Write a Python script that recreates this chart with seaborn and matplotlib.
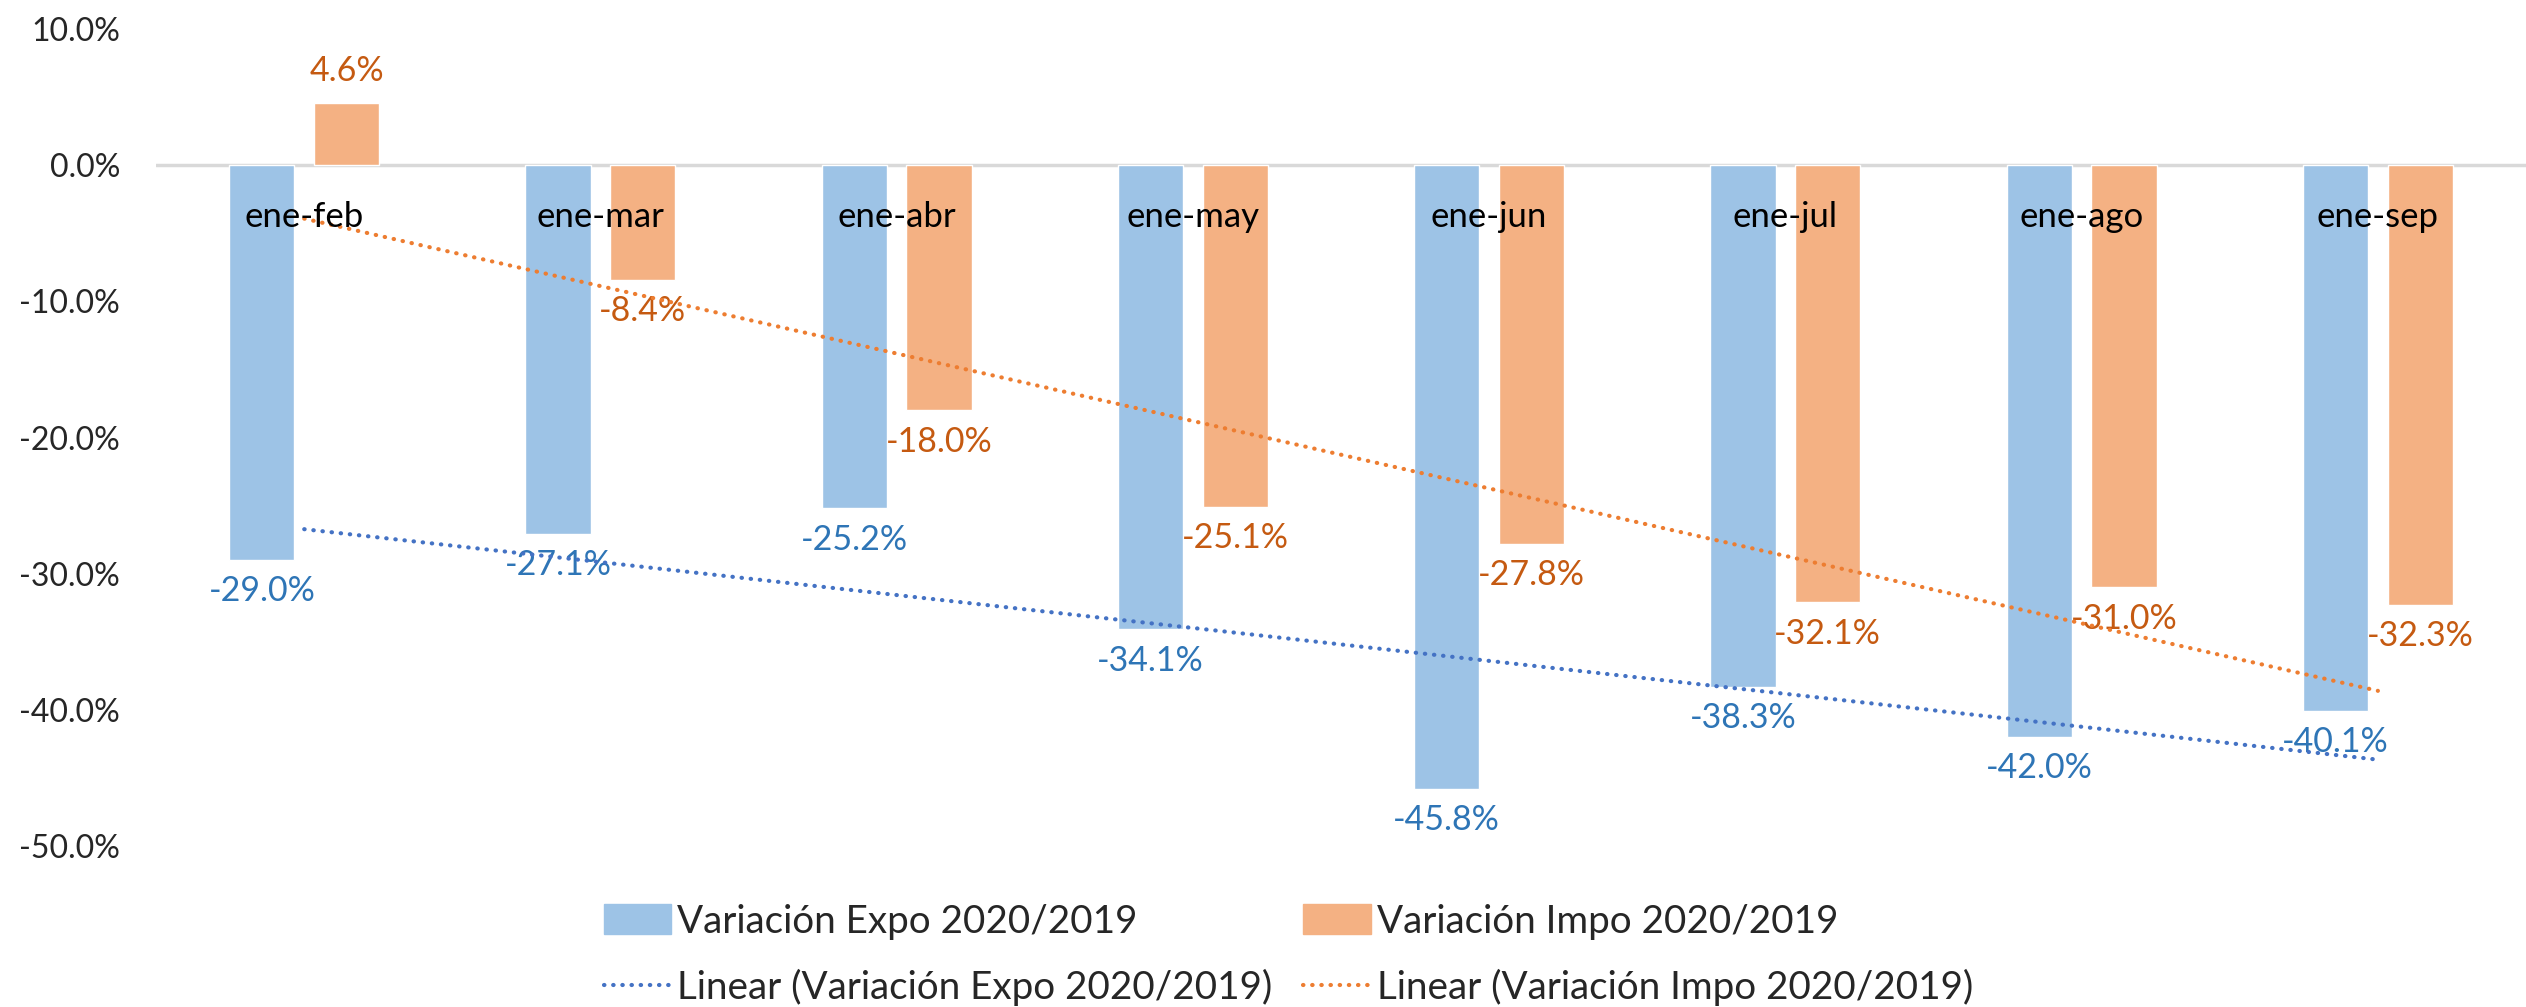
import numpy as np
import pandas as pd
import matplotlib
matplotlib.use("Agg")
import matplotlib.pyplot as plt
import seaborn as sns
from matplotlib.patches import Patch
from matplotlib.lines import Line2D

# datos
periodos = ["ene-feb", "ene-mar", "ene-abr", "ene-may", "ene-jun", "ene-jul", "ene-ago", "ene-sep"]
expo = [-29.0, -27.1, -25.2, -34.1, -45.8, -38.3, -42.0, -40.1]
impo = [4.6, -8.4, -18.0, -25.1, -27.8, -32.1, -31.0, -32.3]
serie_expo = "Variación Expo 2020/2019"
serie_impo = "Variación Impo 2020/2019"
yticks = [10, 0, -10, -20, -30, -40, -50]

# colores
c_expo = "#9DC3E6"
c_impo = "#F4B183"
c_lab_expo = "#2E75B6"
c_lab_impo = "#C55A11"
c_tr_expo = "#4472C4"
c_tr_impo = "#ED7D31"

df = pd.DataFrame({
    "periodo": periodos * 2,
    "serie": [serie_expo] * len(periodos) + [serie_impo] * len(periodos),
    "valor": expo + impo,
})

sns.set_style("white")
plt.rcParams["font.family"] = ["Lato", "DejaVu Sans"]

fig = plt.figure(figsize=(25.26, 10.07), dpi=100)
ax = fig.add_axes([0.0618, 0.160, 0.9382, 0.811])

sns.barplot(data=df, x="periodo", y="valor", hue="serie", order=periodos,
            hue_order=[serie_expo, serie_impo], palette=[c_expo, c_impo],
            saturation=1, width=0.572, gap=0.23, legend=False, ax=ax, zorder=2)

ax.axhline(0, color="#D9D9D9", lw=2.5, zorder=1)

# etiquetas de datos
for cont, col in zip(ax.containers, [c_lab_expo, c_lab_impo]):
    labs = [f"{b.get_height():.1f}%" for b in cont]
    ax.bar_label(cont, labels=labs, padding=11, color=col, fontsize=24.5)

# lineas de tendencia
x = np.arange(len(periodos))
dots = (0, (0.1, 2.1))
sns.regplot(x=x, y=np.array(expo), scatter=False, ci=None, ax=ax,
            line_kws=dict(color=c_tr_expo, linestyle=dots, lw=3,
                          dash_capstyle="round", zorder=3))
sns.regplot(x=x, y=np.array(impo), scatter=False, ci=None, ax=ax,
            line_kws=dict(color=c_tr_impo, linestyle=dots, lw=3,
                          dash_capstyle="round", zorder=3))

# nombres de categoria sobre el eje
for i, p in enumerate(periodos):
    ax.annotate(p, (i, 0), xytext=(0, -37), textcoords="offset points",
                ha="center", va="center", fontsize=25, color="black", zorder=4)

ax.set_xlim(-0.5, 7.5)
ax.set_ylim(-50, 10)
ax.set_yticks(yticks)
ax.set_yticklabels([f"{v:.1f}%" for v in yticks], fontsize=23)
ax.set_xticks([])
ax.set_xlabel("")
ax.set_ylabel("")
ax.tick_params(axis="y", length=0, pad=26)
sns.despine(ax=ax, left=True, bottom=True)

handles = [
    Patch(color=c_expo, label=serie_expo),
    Line2D([], [], color=c_tr_expo, linestyle=dots, lw=3,
           dash_capstyle="round", label="Linear (" + serie_expo + ")"),
    Patch(color=c_impo, label=serie_impo),
    Line2D([], [], color=c_tr_impo, linestyle=dots, lw=3,
           dash_capstyle="round", label="Linear (" + serie_impo + ")"),
]
fig.legend(handles=handles, ncol=2, loc="center", bbox_to_anchor=(0.510, 0.052),
           frameon=False, fontsize=27.8, handlelength=1.75, handleheight=0.8,
           handletextpad=0.15, columnspacing=0.8, labelspacing=0.75)

fig.savefig("out.png", dpi=100)
